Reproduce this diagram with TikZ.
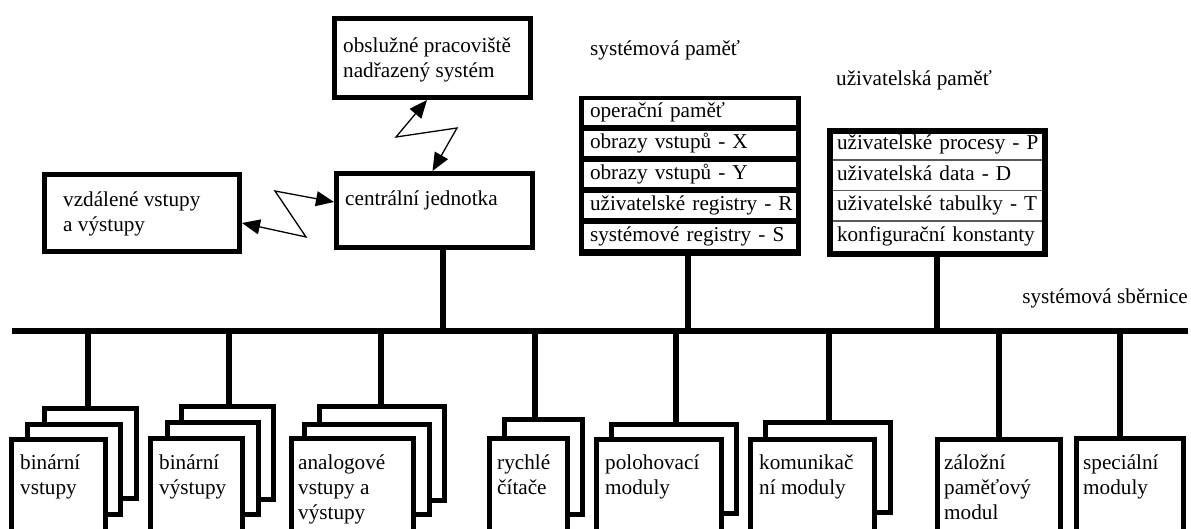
\documentclass[tikz,border=0pt]{standalone}
\usepackage{fontspec}
\setmainfont{Liberation Serif}
\usetikzlibrary{arrows.meta}
\begin{document}
\begin{tikzpicture}[x=1pt,y=-1pt,
  box/.style={draw, line width=5pt, fill=white, inner sep=0pt},
  lbl/.style={anchor=base west, inner sep=0pt, align=left, font=\fontsize{21.2}{25}\selectfont},
  wire/.style={line width=5.5pt},
  zz/.style={line width=1.3pt, {Triangle[length=18pt,width=15pt]}-{Triangle[length=18pt,width=15pt]}},
  srow/.style={fill=white, inner xsep=6pt, inner ysep=0pt, text width=200pt, align=left,
    minimum height=25pt, text height=15pt, text depth=5pt, font=\fontsize{21.2}{25}\selectfont},
  urow/.style={inner xsep=4pt, inner ysep=0pt, text width=201pt, align=left,
    minimum height=30pt, text height=15pt, text depth=5pt, font=\fontsize{21.2}{25}\selectfont},
  sepline/.style={draw=black!65, line width=1.8pt}]
\useasboundingbox (0,0) rectangle (1191,529);
\clip (0,0) rectangle (1191,529);

% top boxes
\node[box, minimum width=196pt, minimum height=79pt] (obs) at (432.5,58) {};
\node[box, minimum width=195pt, minimum height=77pt] (vzd) at (142,213) {};
\node[box, minimum width=196pt, minimum height=74pt] (cpu) at (434.5,210.5) {};
\node[lbl] (tobs) at (343,78) {obslužné pracoviště\\nadřazený systém};
\node[lbl] (tvzd) at (63,232) {vzdálené vstupy\\a výstupy};
\node[lbl] (tcpu) at (345,206) {centrální jednotka};

% zigzag links
\draw[zz] ([xshift=-5.5pt]obs.south) -- (396,137) -- (457,128) -- ([xshift=-2pt]cpu.north);
\draw[zz] ([yshift=8.5pt]cpu.west) -- (275,191) -- (306,237) -- ([yshift=-10pt]vzd.east);

% system memory
\node[lbl] (tsysmem) at (590,56) {systémová paměť};
\node[fill=black, inner sep=0pt, minimum width=222pt, minimum height=160pt] (sysmem) at (690,176) {};
\node[srow] (s1) at (690,112.5) {\mbox{operační paměť}};
\node[srow] (s2) at (690,143.5) {\mbox{obrazy vstupů - X}};
\node[srow] (s3) at (690,174.5) {\mbox{obrazy vstupů - Y}};
\node[srow] (s4) at (690,205.5) {\mbox{uživatelské registry - R}};
\node[srow] (s5) at (690,236.5) {\mbox{systémové registry - S}};

% user memory
\node[lbl] (tusrmem) at (836,86) {uživatelská paměť};
\node[draw, line width=6pt, fill=white, inner sep=0pt, minimum width=215pt, minimum height=123pt] (usrmem) at (937.5,192.5) {};
\node[urow] (u1) at (937.5,145) {\mbox{uživatelské procesy - P}};
\node[urow] (u2) at (937.5,175.5) {\mbox{uživatelská data - D}};
\node[urow] (u3) at (937.5,206) {\mbox{uživatelské tabulky - T}};
\node[urow] (u4) at (937.5,236.5) {\mbox{konfigurační konstanty}};
\draw[sepline] (833,160) -- (1042,160);
\draw[sepline] (833,190.5) -- (1042,190.5);
\draw[sepline] (833,221) -- (1042,221);

% bus
\coordinate (busL) at (12,331);
\coordinate (busR) at (1188,331);
\draw[wire] (busL) -- (busR);
\node[lbl, anchor=base east] (tbus) at (1188,303) {systémová sběrnice};

\coordinate (tapcpu) at (443,331);
\coordinate (tapsys) at (688,331);
\coordinate (tapusr) at (937,331);
\draw[wire] (tapcpu |- cpu.south) -- (tapcpu);
\draw[wire] (tapsys |- sysmem.south) -- (tapsys);
\draw[wire] (tapusr |- usrmem.south) -- (tapusr);

% modules
\node[box, minimum width=92pt, minimum height=90pt] (m1c) at (90,453.5) {};
\node[box, minimum width=93pt, minimum height=90pt] (m1b) at (74,469.5) {};
\node[box, minimum width=94pt, minimum height=103pt] (m1a) at (58.5,491) {};
\node[lbl] (t1) at (20,494) {binární\\vstupy};

\node[box, minimum width=92pt, minimum height=93pt] (m2c) at (227.5,453) {};
\node[box, minimum width=91pt, minimum height=92pt] (m2b) at (212.5,468.5) {};
\node[box, minimum width=92pt, minimum height=104pt] (m2a) at (196.5,490.5) {};
\node[lbl] (t2) at (159,494) {binární\\výstupy};

\node[box, minimum width=125pt, minimum height=94pt] (m3c) at (382,453.5) {};
\node[box, minimum width=125pt, minimum height=90pt] (m3b) at (367,469.5) {};
\node[box, minimum width=122pt, minimum height=104pt] (m3a) at (352.5,490.5) {};
\node[lbl] (t3) at (298,519) {analogové\\vstupy a\\výstupy};

\node[box, minimum width=78pt, minimum height=95pt] (m4b) at (543.5,467) {};
\node[box, minimum width=78pt, minimum height=104pt] (m4a) at (528.5,490.5) {};
\node[lbl] (t4) at (497,494) {rychlé\\čítače};

\node[box, minimum width=125pt, minimum height=89pt] (m5b) at (674,469) {};
\node[box, minimum width=125pt, minimum height=103pt] (m5a) at (659,491) {};
\node[lbl] (t5) at (605,494) {polohovací\\moduly};

\node[box, minimum width=125pt, minimum height=90pt] (m6b) at (828,467.5) {};
\node[box, minimum width=124pt, minimum height=103pt] (m6a) at (812.5,491) {};
\node[lbl] (t6) at (759,494) {komunikač\\ní moduly};

\node[box, minimum width=123pt, minimum height=103pt] (m7) at (999,491) {};
\node[lbl] (t7) at (944,519) {záložní\\paměťový\\modul};

\node[box, minimum width=107pt, minimum height=104pt] (m8) at (1130,490.5) {};
\node[lbl] (t8) at (1083,494) {speciální\\moduly};

\coordinate (tap1) at (88,331);
\coordinate (tap2) at (229,331);
\coordinate (tap3) at (381,331);
\coordinate (tap4) at (535,331);
\coordinate (tap5) at (676,331);
\coordinate (tap6) at (829,331);
\coordinate (tap7) at (999,331);
\coordinate (tap8) at (1120,331);
\draw[wire] (tap1) -- (tap1 |- m1c.north);
\draw[wire] (tap2) -- (tap2 |- m2c.north);
\draw[wire] (tap3) -- (tap3 |- m3c.north);
\draw[wire] (tap4) -- (tap4 |- m4b.north);
\draw[wire] (tap5) -- (tap5 |- m5b.north);
\draw[wire] (tap6) -- (tap6 |- m6b.north);
\draw[wire] (tap7) -- (tap7 |- m7.north);
\draw[wire] (tap8) -- (tap8 |- m8.north);
\end{tikzpicture}
\end{document}
